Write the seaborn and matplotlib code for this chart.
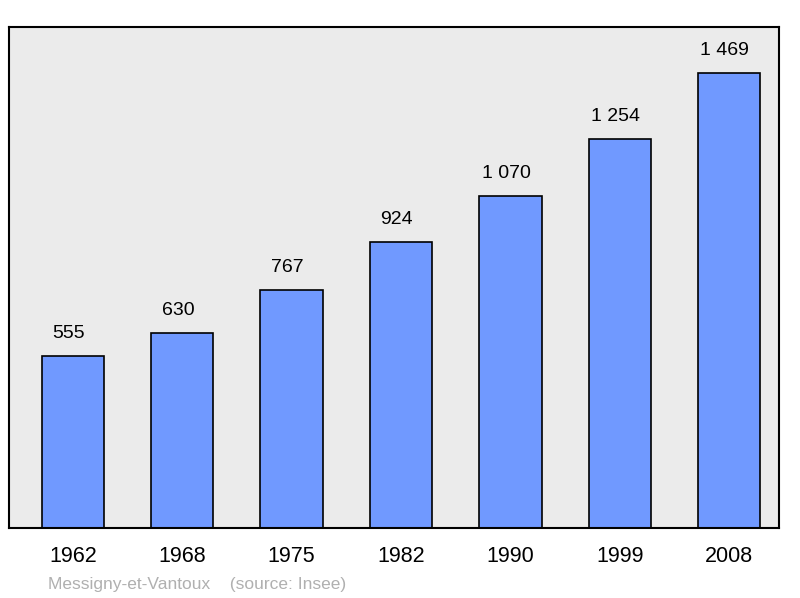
import matplotlib
matplotlib.use("Agg")
import matplotlib.pyplot as plt
import seaborn as sns
import pandas as pd

years = ["1962", "1968", "1975", "1982", "1990", "1999", "2008"]
population = [555, 630, 767, 924, 1070, 1254, 1469]
labels = ["555", "630", "767", "924", "1 070", "1 254", "1 469"]

sns.set_style("white")
plt.rcParams['font.family'] = ['Liberation Sans', 'DejaVu Sans']

df = pd.DataFrame({"year": years, "pop": population})
fig = plt.figure(figsize=(8, 5.98), dpi=100)
ax = fig.add_axes([9/800, 1-528/598, 770/800, 501/598])
ax.set_facecolor("#ebebeb")
sns.barplot(data=df, x="year", y="pop", color="#7099ff", saturation=1,
            width=0.57, edgecolor="black", linewidth=1.2, ax=ax)
for i, (v, t) in enumerate(zip(population, labels)):
    ax.text(i - 0.04, v + 45, t, ha="center", va="bottom", fontsize=14, color="black")
ax.set_xlim(-0.585, 6.457)
ax.set_ylim(0, 1616)
ax.set_yticks([])
ax.set_xlabel("")
ax.set_ylabel("")
ax.tick_params(axis="x", length=0, labelsize=15.5, pad=13, labelcolor="black")
for s in ax.spines.values():
    s.set_color("black")
    s.set_linewidth(1.5)
fig.text(48/800, 1-584/598, "Messigny-et-Vantoux    (source: Insee)",
         color="#b0b0b0", fontsize=12.5, va="center")
fig.savefig("out.png", dpi=100)
